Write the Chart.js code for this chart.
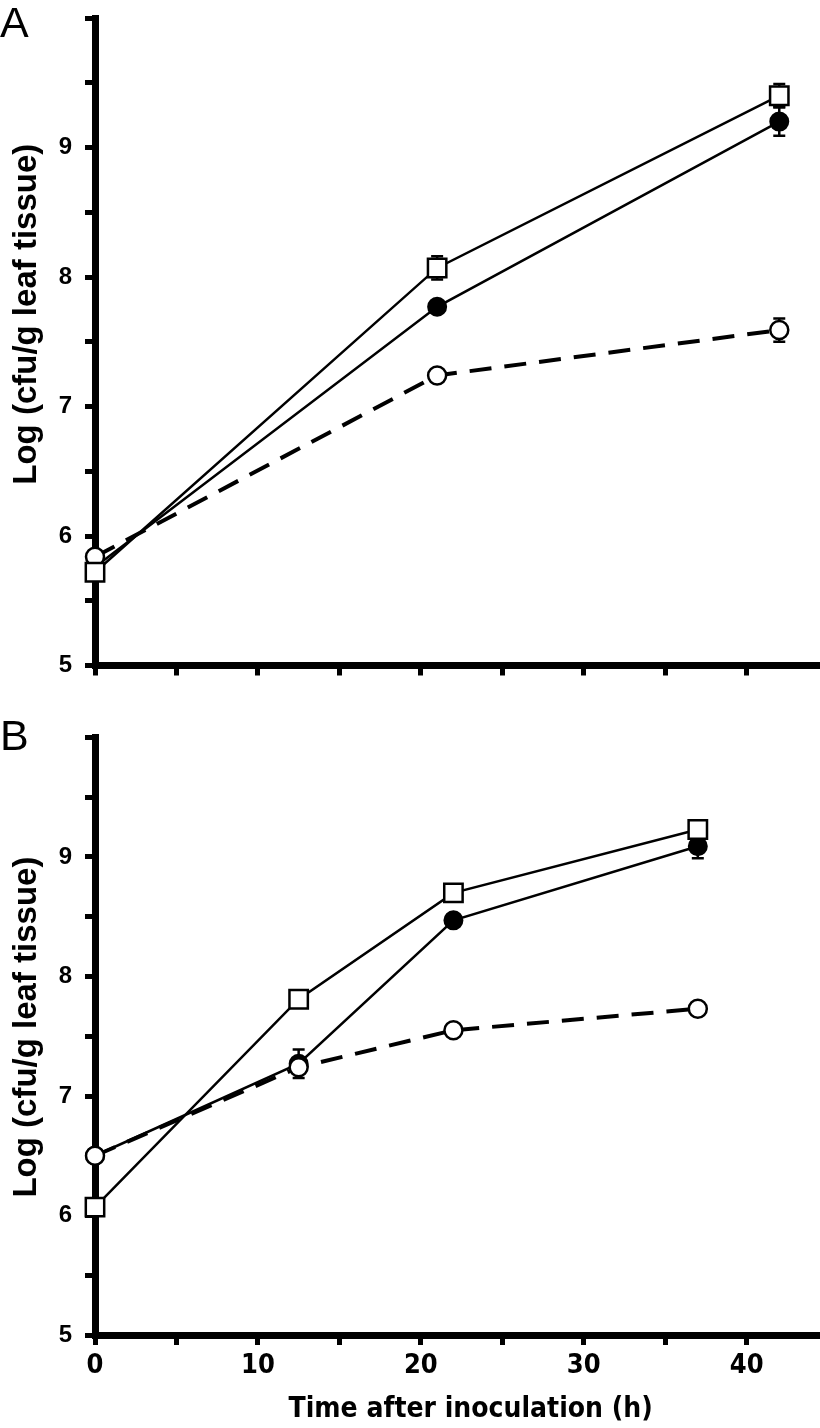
<!DOCTYPE html>
<html lang="en">
<head>
<meta charset="UTF-8">
<title>Log cfu growth curves</title>
<script src="https://cdn.jsdelivr.net/npm/chart.js"></script>
<style>
  body { margin: 0; background: #fff; }
  #wrap { position: relative; width: 820px; height: 1428px; overflow: hidden; }
  canvas { position: absolute; left: 0; }
  #chartA { top: 0; }
  #chartB { top: 700px; }
  .panel { position: absolute; left: 0; font-family: 'Liberation Sans', Arial, sans-serif; font-size: 43px; line-height: 1; color: #000; }
</style>
</head>
<body>
<div id="wrap">
  <canvas id="chartA" width="820" height="700"></canvas>
  <canvas id="chartB" width="820" height="728"></canvas>
  <div class="panel" style="top:1px">A</div>
  <div class="panel" style="top:714px">B</div>
</div>

<script>
// panel A
var timesA = [0, 21, 42];
var squareA = [5.72, 8.07, 9.40];
var squareErrA = [null, 0.09, 0.09];
var filledA = [5.76, 7.77, 9.20];
var filledErrA = [null, null, 0.11];
var openA = [5.84, 7.24, 7.59];
var openErrA = [null, null, 0.09];

// panel B
var timesB = [0, 12.5, 22, 37];
var squareB = [6.07, 7.81, 8.70, 9.23];
var squareErrB = [null, null, null, null];
var filledB = [6.50, 7.27, 8.47, 9.09];
var filledErrB = [null, 0.12, null, 0.10];
var openB = [6.50, 7.24, 7.55, 7.73];
var openErrB = [null, null, null, null];

var xTickValues = [0, 5, 10, 15, 20, 25, 30, 35, 40];
var xTicks = [0, 10, 20, 30, 40];
var yTicks = [5, 6, 7, 8, 9];

const yTitle = 'Log (cfu/g leaf tissue)';
const xTitle = 'Time after inoculation (h)';
const boldFont = "'Liberation Sans', Arial, sans-serif";
let narrowFont = "'Liberation Sans Narrow', sans-serif";
let narrowTitleSize = 31;

Chart.defaults.color = '#000';
Chart.defaults.devicePixelRatio = 1;

function pts(xs, ys) {
  return xs.map((x, i) => ({ x: x, y: ys[i] }));
}

// is the narrow face really there? compare against a monospace fallback
function hasFont(name) {
  const c = document.createElement('canvas').getContext('2d');
  c.font = "bold 32px monospace";
  const a = c.measureText(xTitle).width;
  c.font = "bold 32px '" + name + "', monospace";
  return Math.abs(c.measureText(xTitle).width - a) > 1;
}

// error bars drawn under the markers
const errorBars = {
  id: 'errorBars',
  beforeDatasetsDraw(chart) {
    const ctx = chart.ctx;
    const xs = chart.scales.x, ys = chart.scales.y;
    ctx.save();
    ctx.strokeStyle = '#000';
    ctx.lineWidth = 2.5;
    chart.data.datasets.forEach(ds => {
      (ds.err || []).forEach((e, i) => {
        if (e == null) return;
        const p = ds.data[i];
        const px = xs.getPixelForValue(p.x);
        const top = ys.getPixelForValue(p.y + e);
        const bot = ys.getPixelForValue(p.y - e);
        ctx.beginPath();
        ctx.moveTo(px, top); ctx.lineTo(px, bot);
        ctx.moveTo(px - 6, top); ctx.lineTo(px + 6, top);
        ctx.moveTo(px - 6, bot); ctx.lineTo(px + 6, bot);
        ctx.stroke();
      });
    });
    ctx.restore();
  }
};

function makeChart(id, times, sq, sqErr, fi, fiErr, op, opErr, showX, padTop, titleText) {
  return new Chart(document.getElementById(id), {
    type: 'line',
    data: {
      datasets: [
        {
          data: pts(times, sq), err: sqErr,
          borderColor: '#000', borderWidth: 2.5,
          pointStyle: 'rect', pointRadius: 13, pointBackgroundColor: '#fff',
          pointBorderColor: '#000', pointBorderWidth: 2.5, clip: false
        },
        {
          data: pts(times, op), err: opErr,
          borderColor: '#000', borderWidth: 4, borderDash: [22, 13],
          pointStyle: 'circle', pointRadius: 9, pointBackgroundColor: '#fff',
          pointBorderColor: '#000', pointBorderWidth: 2.5, clip: false
        },
        {
          data: pts(times, fi), err: fiErr,
          borderColor: '#000', borderWidth: 2.5,
          pointStyle: 'circle', pointRadius: 9, pointBackgroundColor: '#000',
          pointBorderColor: '#000', pointBorderWidth: 2, clip: false
        }
      ]
    },
    options: {
      responsive: false,
      animation: false,
      layout: { autoPadding: false, padding: { top: padTop, right: 0, left: 0, bottom: 0 } },
      plugins: { legend: { display: false }, tooltip: { enabled: false } },
      elements: { line: { tension: 0 } },
      scales: {
        x: {
          type: 'linear', min: 0, max: 44.5,
          afterBuildTicks: s => { s.ticks = xTickValues.map(v => ({ value: v })); },
          afterFit: s => { s.height = showX ? 93 : 34.5; s.paddingLeft = 0; s.paddingRight = 0; },
          border: { color: '#000', width: 7 },
          grid: { drawOnChartArea: false, drawTicks: true, tickLength: 10, tickWidth: 5, color: '#000' },
          ticks: {
            padding: 5, autoSkip: false, maxRotation: 0,
            font: { family: narrowFont, size: 27, weight: 'bold' },
            callback: v => (showX && xTicks.includes(v)) ? String(v) : ''
          },
          title: {
            display: showX, text: '   ' + xTitle,
            font: { family: narrowFont, size: narrowTitleSize, weight: 'bold' },
            padding: { top: 0, bottom: 1 }
          }
        },
        y: {
          type: 'linear', min: 5, max: 10,
          afterFit: s => { s.width = 95; s.paddingTop = 0; s.paddingBottom = 0; },
          border: { color: '#000', width: 7 },
          grid: { drawOnChartArea: false, drawTicks: true, tickLength: 10, tickWidth: 5, color: '#000' },
          ticks: {
            stepSize: 0.5, padding: 13, autoSkip: false,
            font: { family: boldFont, size: 24, weight: 'bold' },
            callback: v => yTicks.includes(v) ? String(v) : ''
          },
          title: {
            display: true, text: titleText,
            font: { family: boldFont, size: 33, weight: 'bold' },
            padding: { top: 7, bottom: 0 }
          }
        }
      }
    },
    plugins: [errorBars]
  });
}

Promise.all([
  document.fonts.load("bold 26px 'Liberation Sans'"),
  document.fonts.load("bold 26px 'Liberation Sans Narrow'"),
  document.fonts.load("bold 26px 'DejaVu Sans Condensed'")
]).catch(() => {}).then(() => {
  if (!hasFont('Liberation Sans Narrow')) {
    narrowFont = "'DejaVu Sans Condensed', 'Liberation Sans', sans-serif";
    narrowTitleSize = 28;
  }
  // leading spaces nudge the rotated title upward, as in the figure
  makeChart('chartA', timesA, squareA, squareErrA, filledA, filledErrA, openA, openErrA, false, 18, '      ' + yTitle);
  makeChart('chartB', timesB, squareB, squareErrB, filledB, filledErrB, openB, openErrB, true, 37.5, '  ' + yTitle);
});
</script>
</body>
</html>
